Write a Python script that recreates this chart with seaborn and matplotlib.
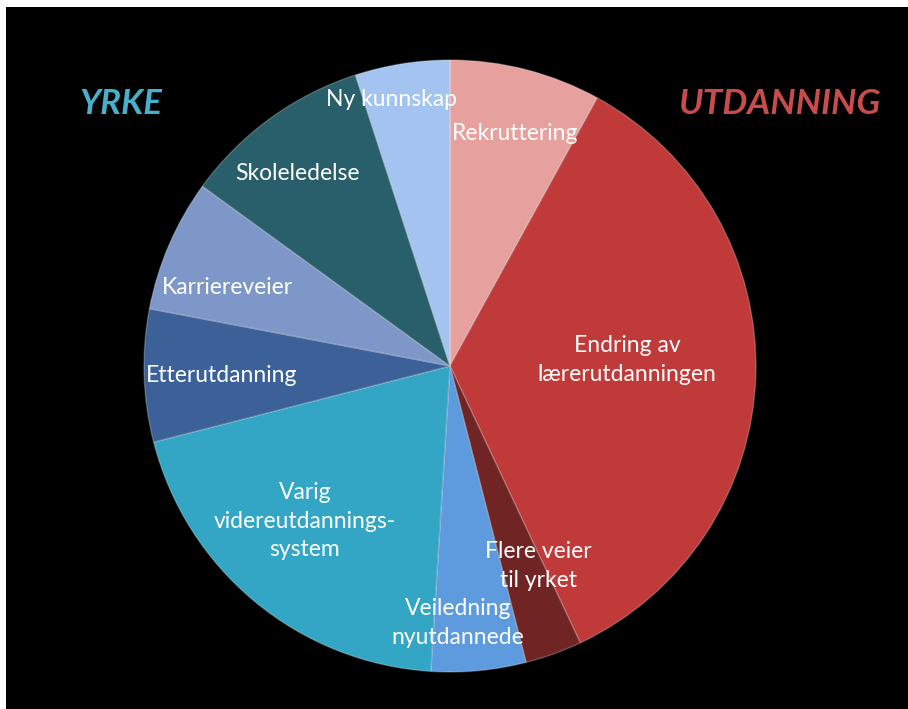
import matplotlib
matplotlib.use("Agg")
import matplotlib.pyplot as plt
import seaborn as sns

categories = ["Rekruttering", "Endring av\nlærerutdanningen", "Flere veier\ntil yrket",
              "Veiledning\nnyutdannede", "Varig\nvidereutdannings-\nsystem", "Etterutdanning",
              "Karriereveier", "Skoleledelse", "Ny kunnskap"]
shares = [8, 35, 3, 5, 20, 7, 7, 10, 5]
colors = ["#E6A19F", "#C03A3A", "#702424", "#5E9BDE", "#33A6C6", "#3B6198",
          "#7E97C9", "#285F6A", "#A3C4F0"]
group_titles = ["YRKE", "UTDANNING"]
group_colors = ["#47B0CC", "#C94C4C"]

sns.set_style("dark")
palette = sns.color_palette(colors)
plt.rcParams['font.family'] = ['Lato', 'DejaVu Sans']

W, H = 908, 709
fig = plt.figure(figsize=(W / 100, H / 100), dpi=100, facecolor="white")
ax = fig.add_axes([6 / W, 0, (W - 6) / W, (H - 7) / H])
ax.set_facecolor("black")
for s in ax.spines.values():
    s.set_visible(False)
ax.grid(False)

def px(x, y):
    return x - 6, H - y

cx, cy = px(450, 366)
wedges, _ = ax.pie(shares, colors=palette, startangle=90, counterclock=False,
                   center=(cx, cy), radius=306, frame=True,
                   wedgeprops=dict(edgecolor=(1, 1, 1, 0.25), linewidth=1.0))
ax.set_xlim(0, W - 6)
ax.set_ylim(0, H - 7)
ax.set_xticks([])
ax.set_yticks([])

label_pos = [(515, 134), (627, 360), (538, 566), (458, 623), (305, 521),
             (222, 376), (227, 288), (297, 174), (392, 100)]
for lab, (x, y) in zip(categories, label_pos):
    ax.text(*px(x, y), lab, ha="center", va="center", color="white",
            fontsize=16.5, linespacing=1.45)

ax.text(*px(121, 104), group_titles[0], ha="center", va="center",
        color=group_colors[0], fontsize=25, fontweight="bold", style="italic")
ax.text(*px(780, 104), group_titles[1], ha="center", va="center",
        color=group_colors[1], fontsize=25.5, fontweight="bold", style="italic")

fig.savefig("out.png", dpi=100, facecolor="white")
